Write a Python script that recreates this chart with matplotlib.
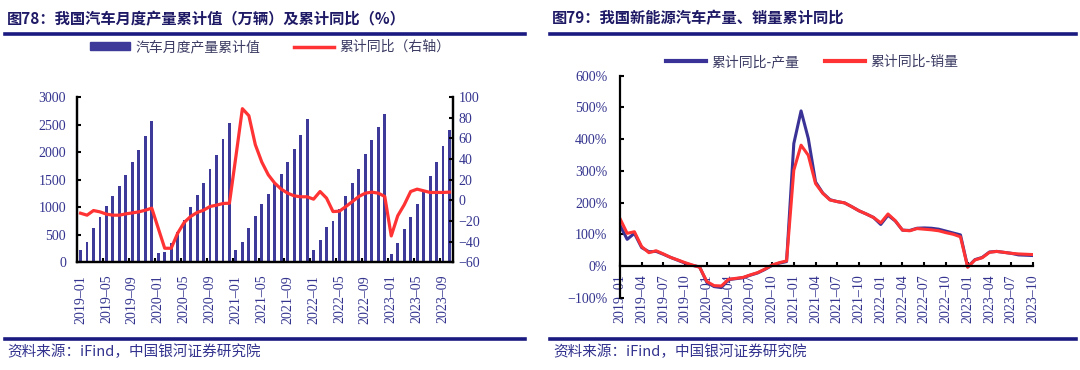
import matplotlib
matplotlib.use('Agg')
import matplotlib.pyplot as plt
import numpy as np
import pandas as pd
from matplotlib.lines import Line2D
from matplotlib.patches import Patch

plt.rcParams['font.family'] = ['Liberation Serif', 'Noto Sans CJK SC']
plt.rcParams['axes.unicode_minus'] = True

# months 2019-01 .. 2023-10
months = pd.date_range('2019-01-01', '2023-10-01', freq='MS').strftime('%Y\u2013%m').tolist()

# left chart: cumulative car output (10k units) and cumulative YoY (%)
car_output = [224, 364, 630, 830, 1018, 1206, 1382, 1588, 1812, 2036, 2297, 2570,
              170, 194, 345, 545, 770, 1000, 1218, 1436, 1691, 1939, 2230, 2521,
              224, 376, 630, 848, 1055, 1242, 1436, 1606, 1818, 2055, 2315, 2600,
              224, 412, 636, 758, 962, 1206, 1448, 1691, 1964, 2212, 2455, 2697,
              152, 352, 612, 824, 1061, 1300, 1558, 1818, 2103, 2394]
car_yoy = [-12.5, -14.4, -9.9, -11.2, -13.4, -14.4, -14.4, -13.1, -12.2, -11.2, -9.6, -7.6,
           -27, -46.4, -46.4, -31.9, -21.5, -15.7, -11.8, -9.6, -6, -4.7, -3.1, -2.8,
           42.5, 88.7, 81.9, 53.8, 37, 24.7, 16.6, 10.8, 6.9, 4.3, 3.4, 3.4,
           1.1, 8.5, 2.1, -10.9, -10.5, -6, -1.2, 3.7, 6.9, 7.9, 6.9, 3.7,
           -34.5, -15, -4.4, 8.5, 10.8, 9.2, 7.6, 7.6, 7.6, 7.9]

# right chart: NEV cumulative YoY (%), production and sales
nev_prod = [129, 84, 103, 58, 45, 46, 37, 27, 18, 9, 2, -3,
            -52, -65, -68, -43, -40, -37, -29, -22, -11, 2, 9, 14,
            386, 489, 402, 265, 230, 209, 203, 199, 187, 174, 164, 153,
            131, 160, 142, 113, 112, 119, 120, 119, 116, 110, 104, 98,
            -3, 20, 27, 44, 46, 43, 40, 35, 34, 33]
nev_sales = [150, 103, 108, 61, 42, 48, 38, 27, 19, 10.5, 3, -4,
             -49, -62, -63, -42, -39, -36, -28, -21, -10, 3, 10.5, 16,
             302, 381, 349, 260, 229, 208, 203, 199, 187, 174, 164, 153,
             136, 164, 143, 113, 111, 118, 116, 114, 111, 105, 100, 92,
             -4, 19, 26, 43, 46, 43, 40, 38, 37, 36]

BAR = '#3D3A9A'
RED = '#FF3333'
NAVY = '#3A3296'
TICK = '#33338F'
TITLE = '#1F1A66'
RULE = '#1A1A80'
LEGTXT = '#3C3C64'
CJK = ['Noto Sans CJK SC', 'DejaVu Sans']

fig = plt.figure(figsize=(10.8, 3.7), dpi=100)
W, H = 1080, 370


def fx(px):
    return px / W


def fy(py):
    return 1 - py / H


x = np.arange(len(months))

# ---------- left chart ----------
ax1 = fig.add_axes([0.0716, 0.2911, 0.3476, 0.4468])
ax1.bar(x, car_output, width=0.45, color=BAR)
ax1.set_xlim(-0.5, len(months) - 0.5)
ax1.set_ylim(0, 3000)
ax1.set_yticks(range(0, 3001, 500))
ax1.set_xticks(x[::4])
ax1.set_xticklabels(months[::4], rotation=90)
ax1.set_xticks(np.arange(3.5, len(months), 4), minor=True)
ax1.tick_params(axis='x', which='major', length=0, pad=9, labelsize=10, labelcolor=TICK)
ax1.tick_params(axis='x', which='minor', direction='in', length=3, width=1.5)
ax1.tick_params(axis='y', direction='in', length=3, width=1.5, pad=8, labelsize=10, labelcolor=TICK)
ax1.spines['top'].set_visible(False)
for s in ['left', 'right', 'bottom']:
    ax1.spines[s].set_linewidth(1.6)

ax2 = ax1.twinx()
ax2.plot(x, car_yoy, color=RED, lw=2.3)
ax2.set_ylim(-60, 100)
ax2.set_yticks(range(-60, 101, 20))
ax2.tick_params(axis='y', direction='in', length=3, width=1.5, pad=4, labelsize=10, labelcolor=TICK)
ax2.spines['top'].set_visible(False)
for s in ['left', 'right', 'bottom']:
    ax2.spines[s].set_linewidth(1.6)

h1 = [Patch(color=BAR), Line2D([], [], color=RED, lw=2.5)]
leg1 = fig.legend(h1, ['汽车月度产量累计值', '累计同比（右轴）'], loc='center',
                  bbox_to_anchor=(fx(270), fy(47)), ncol=2, frameon=False,
                  prop={'family': CJK, 'size': 10}, handlelength=2.9, handleheight=0.45,
                  columnspacing=2.4, handletextpad=0.4, labelcolor=LEGTXT)

# ---------- right chart ----------
ax3 = fig.add_axes([0.574, 0.1954, 0.3824, 0.6])
ax3.plot(x, nev_prod, color=NAVY, lw=2.2)
ax3.plot(x, nev_sales, color=RED, lw=2.2)
ax3.set_xlim(0, len(months) - 1)
ax3.set_ylim(-100, 600)
ax3.spines['bottom'].set_position(('data', 0))
ax3.spines['top'].set_visible(False)
ax3.spines['right'].set_visible(False)
for s in ['left', 'bottom']:
    ax3.spines[s].set_linewidth(1.6)
ax3.set_xticks(x[::3])
ax3.set_xticklabels(months[::3], rotation=90)
yt = list(range(-100, 601, 100))
ax3.set_yticks(yt)
ax3.set_yticklabels([f'{v}%'.replace('-', '\u2212') for v in yt])
ax3.tick_params(axis='x', direction='in', length=3, width=1.5, pad=6, labelsize=10, labelcolor=TICK)
ax3.tick_params(axis='y', direction='in', length=3, width=1.5, pad=9, labelsize=10, labelcolor=TICK)

h2 = [Line2D([], [], color=NAVY, lw=3), Line2D([], [], color=RED, lw=3)]
fig.legend(h2, ['累计同比-产量', '累计同比-销量'], loc='center',
           bbox_to_anchor=(fx(812), fy(62)), ncol=2, frameon=False,
           prop={'family': CJK, 'size': 10}, handlelength=2.9,
           columnspacing=1.8, handletextpad=0.4, labelcolor=LEGTXT)

# ---------- titles, rules, sources ----------
fig.text(fx(7), fy(19), '图78：我国汽车月度产量累计值（万辆）及累计同比（%）', family=CJK,
         fontsize=11, fontweight='bold', color=TITLE, va='center', ha='left')
fig.text(fx(552), fy(18), '图79：我国新能源汽车产量、销量累计同比', family=CJK,
         fontsize=11, fontweight='bold', color=TITLE, va='center', ha='left')

for x0, x1 in [(5, 525), (550, 1076)]:
    fig.add_artist(Line2D([fx(x0), fx(x1)], [fy(34), fy(34)], lw=2.6, color=RULE))
    fig.add_artist(Line2D([fx(x0), fx(x1)], [fy(339), fy(339)], lw=2.6, color=RULE))

fig.text(fx(7), fy(352), '资料来源：iFind，中国银河证券研究院', family=CJK,
         fontsize=10.5, style='italic', color=TICK, va='center', ha='left')
fig.text(fx(553), fy(352), '资料来源：iFind，中国银河证券研究院', family=CJK,
         fontsize=10.5, style='italic', color=TICK, va='center', ha='left')

fig.savefig('out.png', dpi=100)
